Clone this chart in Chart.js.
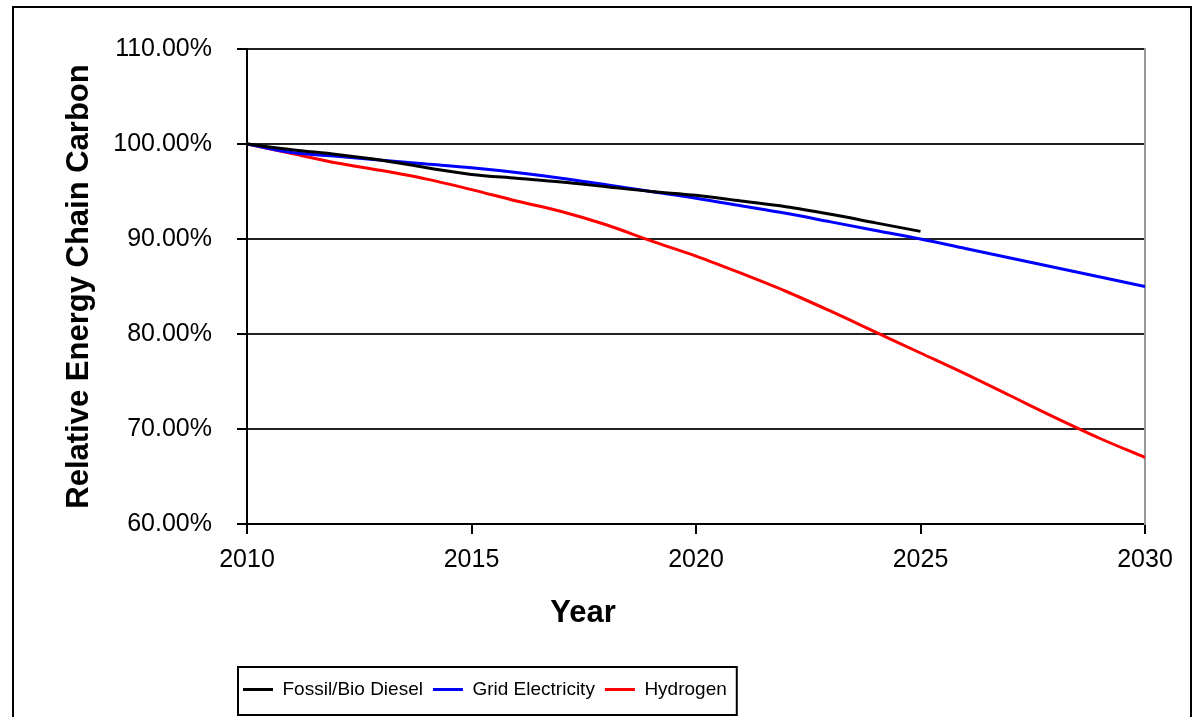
<!DOCTYPE html>
<html>
<head>
<meta charset="utf-8">
<script src="https://cdn.jsdelivr.net/npm/chart.js@4/dist/chart.umd.min.js"></script>
<style>
  body { margin: 0; background: #fff; }
  #wrap { position: relative; width: 1196px; height: 717px; overflow: hidden; }
  #frame { position: absolute; left: 12px; top: 6px; width: 1176px; height: 800px; border: 2px solid #000; pointer-events: none; }
  canvas { position: absolute; left: 0; top: 0; }
</style>
</head>
<body>
<div id="wrap">
  <canvas id="chart" width="1196" height="717"></canvas>
  <div id="frame"></div>
</div>
<script>
// Chart data
const years = [2010, 2011, 2012, 2013, 2014, 2015, 2016, 2017, 2018, 2019, 2020,
               2021, 2022, 2023, 2024, 2025, 2026, 2027, 2028, 2029, 2030];
const fossilBioDiesel = [100, 99.4, 98.9, 98.3, 97.5, 96.8, 96.4, 96.0, 95.5, 95.0, 94.6,
                         94.0, 93.4, 92.6, 91.7, 90.8];
const gridElectricity = [100, 99.1, 98.7, 98.3, 97.9, 97.5, 97.0, 96.4, 95.7, 95.0, 94.3,
                         93.5, 92.7, 91.8, 90.9, 90.0, 89.0, 88.0, 87.0, 86.0, 85.0];
const hydrogen = [100, 99.0, 98.0, 97.2, 96.3, 95.2, 94.0, 92.9, 91.5, 89.8, 88.2,
                  86.4, 84.5, 82.4, 80.2, 78.0, 75.8, 73.5, 71.2, 69.0, 67.0];
const seriesNames = ['Fossil/Bio Diesel', 'Grid Electricity', 'Hydrogen'];
const yTicks = [60, 70, 80, 90, 100, 110];
const xTitle = 'Year';
const yTitle = 'Relative Energy Chain Carbon';

Chart.defaults.font.family = '"Liberation Sans", Arial, sans-serif';
Chart.defaults.color = '#000';

const toPoints = vals => vals.map((v, i) => ({ x: years[i], y: v }));

function line(label, vals, color) {
  return {
    label: label,
    data: toPoints(vals),
    borderColor: color,
    backgroundColor: color,
    borderWidth: 3,
    pointRadius: 0,
    cubicInterpolationMode: 'monotone'
  };
}

// legend shift, legend frame and the x axis title
const extras = {
  id: 'extras',
  afterLayout(chart) {
    const lg = chart.legend;
    lg.left += 233;
    lg.right += 233;
  },
  afterDraw(chart) {
    const ctx = chart.ctx;
    ctx.save();
    ctx.font = 'bold 31px "Liberation Sans", Arial, sans-serif';
    ctx.fillStyle = '#000';
    ctx.textAlign = 'center';
    ctx.textBaseline = 'alphabetic';
    ctx.fillText(xTitle, 583, 622);

    const hb = chart.legend.legendHitBoxes;
    const last = hb[hb.length - 1];
    const x0 = hb[0].left - 5;
    const x1 = last.left + last.width + 10;
    ctx.strokeStyle = '#000';
    ctx.lineWidth = 2;
    ctx.strokeRect(x0, 667, x1 - x0, 48);
    ctx.restore();
  }
};

new Chart(document.getElementById('chart'), {
  type: 'line',
  data: {
    datasets: [
      line(seriesNames[0], fossilBioDiesel, '#000000'),
      line(seriesNames[1], gridElectricity, '#0000ff'),
      line(seriesNames[2], hydrogen, '#ff0000')
    ]
  },
  options: {
    responsive: false,
    animation: false,
    layout: { padding: { left: 0, right: 0, top: 49, bottom: 8 } },
    plugins: {
      tooltip: { enabled: false },
      legend: {
        position: 'bottom',
        align: 'start',
        labels: {
          usePointStyle: true,
          pointStyle: 'line',
          pointStyleWidth: 30,
          padding: 10,
          color: '#000',
          font: { size: 19 }
        }
      }
    },
    scales: {
      x: {
        type: 'linear',
        min: years[0],
        max: years[years.length - 1],
        ticks: { stepSize: 5, padding: 11, maxRotation: 0, font: { size: 25 }, callback: v => String(v) },
        grid: { drawOnChartArea: false, tickLength: 10, color: '#000', lineWidth: 2 },
        border: { color: '#000', width: 2 },
        afterFit: s => { s.height = 146; }
      },
      y: {
        min: yTicks[0],
        max: yTicks[yTicks.length - 1],
        afterBuildTicks: s => { s.ticks = yTicks.map(v => ({ value: v })); },
        ticks: { padding: 25, font: { size: 25 }, callback: v => v.toFixed(2) + '%' },
        grid: { color: '#222', lineWidth: 2, tickLength: 10, tickColor: '#000' },
        border: { color: '#000', width: 2 },
        title: {
          display: true,
          text: yTitle,
          font: { size: 31, weight: 'bold' },
          padding: { top: 61, bottom: 0 }
        },
        afterFit: s => { s.width = 247; }
      },
      y2: {
        position: 'right',
        display: true,
        min: yTicks[0],
        max: yTicks[yTicks.length - 1],
        ticks: { display: false },
        grid: { display: false },
        border: { color: '#999', width: 2 },
        afterFit: s => { s.width = 51; }
      }
    }
  },
  plugins: [extras]
});
</script>
</body>
</html>
